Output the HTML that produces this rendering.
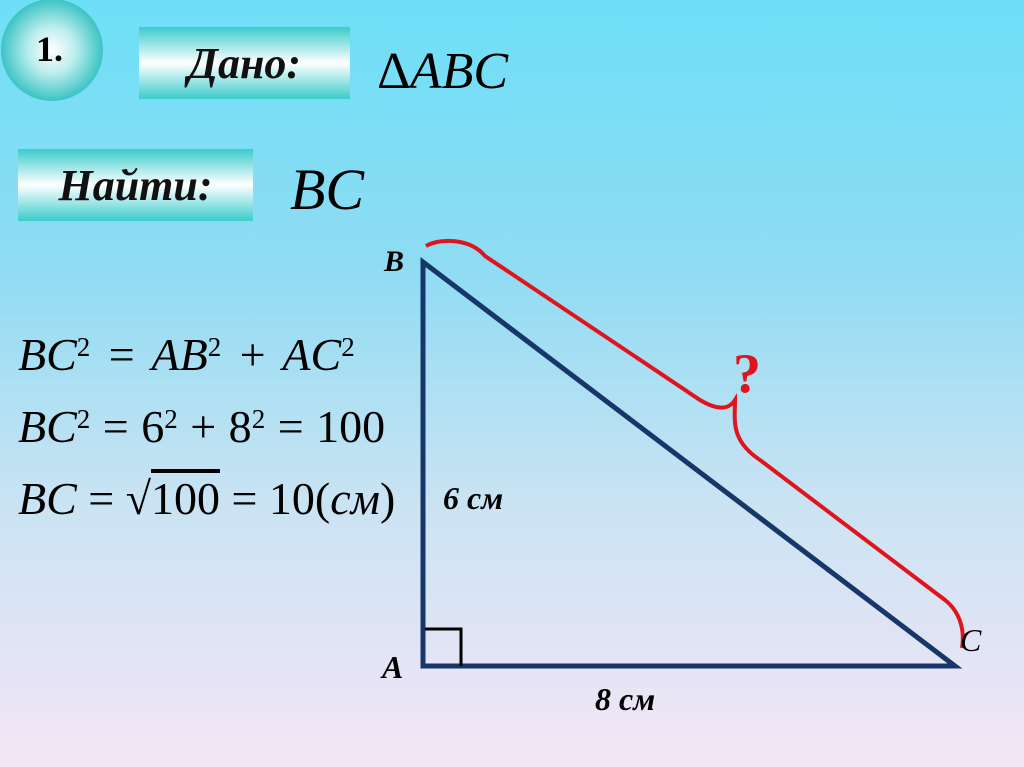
<!DOCTYPE html>
<html><head><meta charset="utf-8"><style>
body{margin:0;width:1024px;height:767px;overflow:hidden;background:linear-gradient(#6ddff7 0%,#8fdcf3 35%,#c9e3f3 65%,#f4e6f6 100%);font-family:"Liberation Serif",serif;position:relative}
.box{position:absolute;background:linear-gradient(#3ccbcb 0%,#ffffff 50%,#3ccbcb 100%);display:flex;align-items:center;justify-content:center;font-weight:bold;font-style:italic;font-size:44px;color:#111}
.t{position:absolute;white-space:nowrap;color:#000}
sup{font-size:27px;font-style:normal;vertical-align:14px}
</style></head><body>
<div style="position:absolute;left:1px;top:-1px;width:102px;height:102px;border-radius:50%;background:radial-gradient(closest-side,#fff 0%,#bdeeee 45%,#3cc3c3 100%)"></div>
<div class="t" style="left:36px;top:28px;font-size:36px;font-weight:bold">1.</div>
<div class="box" style="left:139px;top:27px;width:211px;height:72px">Дано:</div>
<div class="box" style="left:18px;top:149px;width:235px;height:72px">Найти:</div>
<div class="t" style="left:378px;top:42px;font-size:52px;font-style:italic">∆ABC</div>
<div class="t" style="left:290px;top:156px;font-size:58px;font-style:italic">BC</div>
<div class="t" style="left:18px;top:328px;font-size:46px;font-style:italic;word-spacing:4px">BC<sup>2</sup> = AB<sup>2</sup> + AC<sup>2</sup></div>
<div class="t" style="left:18px;top:400px;font-size:46px;word-spacing:1px"><i>BC</i><sup>2</sup> = 6<sup>2</sup> + 8<sup>2</sup> = 100</div>
<div class="t" style="left:18px;top:472px;font-size:46px;word-spacing:0px"><i>BC</i> = √<span style="text-decoration:overline">100</span> = 10(<i>см</i>)</div>
<svg style="position:absolute;left:0;top:0" width="1024" height="767">
<polygon points="423,262 423,666 955,666" fill="none" stroke="#17376a" stroke-width="5"/>
<polyline points="425,629 461,629 461,666" fill="none" stroke="#000" stroke-width="3"/>
<path d="M426,246 C440,238 470,238 485,256 L700,400 C720,412 730,408 735,400 C735,420 730,440 760,460 L945,600 C960,612 965,630 962,648" fill="none" stroke="#e0141c" stroke-width="4"/>
<text x="384" y="271" font-size="30" font-weight="bold" font-style="italic" font-family="Liberation Serif">B</text>
<text x="382" y="678" font-size="32" font-weight="bold" font-style="italic" font-family="Liberation Serif">A</text>
<text x="960" y="651" font-size="32" font-style="italic" font-family="Liberation Serif">C</text>
<text x="443" y="509" font-size="32" font-weight="bold" font-style="italic" font-family="Liberation Serif">6 см</text>
<text x="595" y="710" font-size="32" font-weight="bold" font-style="italic" font-family="Liberation Serif">8 см</text>
<text x="733" y="392" font-size="56" font-weight="bold" fill="#e0141c" font-family="Liberation Serif">?</text>
</svg>
</body></html>
